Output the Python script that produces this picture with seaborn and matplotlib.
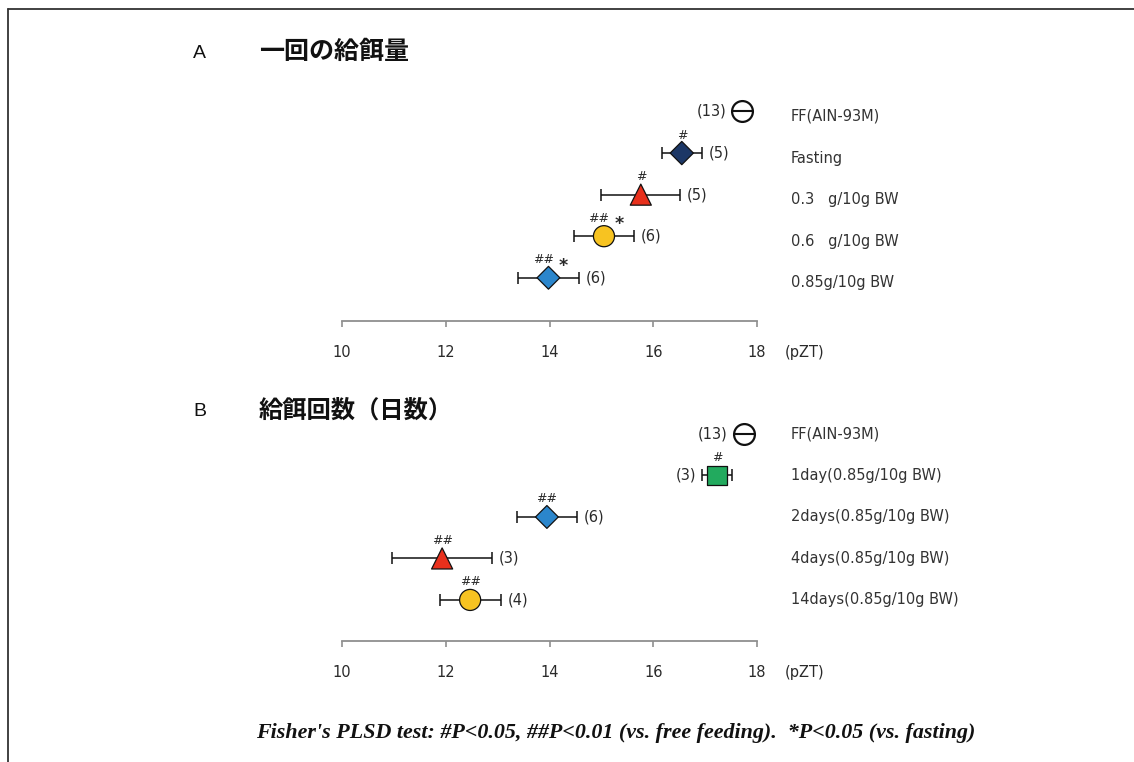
import numpy as np
import pandas as pd
import matplotlib
matplotlib.use("Agg")
import matplotlib.pyplot as plt
import seaborn as sns
from matplotlib.lines import Line2D

# Panel A: meal size per feeding
groups_a = ["FF(AIN-93M)", "Fasting", "0.3   g/10g BW", "0.6   g/10g BW", "0.85g/10g BW"]
onset_a = [17.72, 16.55, 15.76, 15.05, 13.98]
sem_a = [0.0, 0.39, 0.76, 0.58, 0.58]
n_a = [13, 5, 5, 6, 6]
hash_a = ["", "#", "#", "##", "##"]
star_a = ["", "", "", "*", "*"]

# Panel B: number of feeding days
groups_b = ["FF(AIN-93M)", "1day(0.85g/10g BW)", "2days(0.85g/10g BW)",
            "4days(0.85g/10g BW)", "14days(0.85g/10g BW)"]
onset_b = [17.74, 17.23, 13.95, 11.93, 12.47]
sem_b = [0.0, 0.29, 0.58, 0.96, 0.59]
n_b = [13, 3, 6, 3, 4]
hash_b = ["", "#", "##", "##", "##"]
star_b = ["", "", "", "", ""]

xticks = [10, 12, 14, 16, 18]

# marker styles (first entry of each panel is the free-feeding reference)
markers_a = ["o", "D", "^", "o", "D"]
colors_a = ["white", "#1c3766", "#e8301c", "#f7c321", "#2b86cc"]
sizes_a = [225, 140, 230, 230, 135]
markers_b = ["o", "s", "D", "^", "o"]
colors_b = ["white", "#22aa5e", "#2b86cc", "#e8301c", "#f7c321"]
sizes_b = [225, 200, 135, 230, 230]

sns.set_style("white")
plt.rcParams["font.family"] = ["DejaVu Sans"]

fig = plt.figure(figsize=(11.34, 7.62), dpi=100)
W, H = 1134, 762

TXT = "#2a2a2a"
AX_COL = "#8f8f8f"


def draw_panel(ax, groups, onset, sem, n, hashes, stars, markers, colors, sizes,
               label_dy, hash_dy):
    rows = np.arange(len(groups))
    df = pd.DataFrame({"group": groups, "onset": onset, "sem": sem, "row": rows})
    ref = df.iloc[:1]
    rest = df.iloc[1:]

    # error bars
    ax.errorbar(rest["onset"], rest["row"], xerr=rest["sem"], fmt="none",
                ecolor="#111111", elinewidth=1.1, capsize=4.5, capthick=1.1, zorder=2)

    # treated groups
    sns.scatterplot(data=rest, x="onset", y="row", hue="group", style="group",
                    size="group",
                    palette=dict(zip(groups[1:], colors[1:])),
                    markers=dict(zip(groups[1:], markers[1:])),
                    sizes=dict(zip(groups[1:], sizes[1:])),
                    edgecolor="#111111", linewidth=0.9, legend=False, ax=ax, zorder=3)

    # free-feeding reference: open circle crossed by a bar
    sns.scatterplot(data=ref, x="onset", y="row", marker="o", s=sizes[0],
                    color="white", edgecolor="#111111", linewidth=1.6,
                    legend=False, ax=ax, zorder=3)
    ax.plot(ref["onset"], ref["row"], marker="_", markersize=15, mew=1.5,
            color="#111111", linestyle="none", zorder=4)

    for i, g in enumerate(groups):
        x, y, e = onset[i], rows[i], sem[i]
        # sample size
        if x + e > 17:
            ax.annotate(f"({n[i]})", xy=(x - e, y), xytext=(-16 if e == 0 else -6, 0),
                        textcoords="offset pixels", ha="right", va="center",
                        fontsize=10.5, color=TXT)
        else:
            ax.annotate(f"({n[i]})", xy=(x + e, y), xytext=(7, 0),
                        textcoords="offset pixels", ha="left", va="center",
                        fontsize=10.5, color=TXT)
        # significance marks
        if hashes[i]:
            dx = -5 if stars[i] else 0
            ax.annotate(hashes[i], xy=(x, y), xytext=(dx, hash_dy),
                        textcoords="offset pixels", ha="center", va="center",
                        fontsize=9, color=TXT)
        if stars[i]:
            ax.annotate(stars[i], xy=(x, y), xytext=(15, hash_dy - 6),
                        textcoords="offset pixels", ha="center", va="center",
                        fontsize=12.5, color=TXT, fontweight="bold")
        # group name at the right
        ax.annotate(g, xy=(1, y), xycoords=("axes fraction", "data"),
                    xytext=(34, label_dy), textcoords="offset pixels",
                    ha="left", va="center", fontsize=10.5, color="#333333",
                    annotation_clip=False)

    ax.set_xlim(10, 18)
    ax.set_xticks(xticks)
    ax.set_xticklabels([str(t) for t in xticks])
    ax.set_yticks([])
    ax.set_xlabel("")
    ax.set_ylabel("")
    for s in ("left", "top", "right"):
        ax.spines[s].set_visible(False)
    ax.spines["bottom"].set_color(AX_COL)
    ax.spines["bottom"].set_linewidth(1.3)
    ax.tick_params(axis="x", bottom=True, direction="out", length=4, width=1.2,
                   color=AX_COL, pad=13, labelsize=10.5, labelcolor=TXT)
    ax.annotate("(pZT)", xy=(1, 0), xycoords="axes fraction", xytext=(48, -32),
                textcoords="offset pixels", ha="center", va="center",
                fontsize=10.5, color=TXT, annotation_clip=False)
    for c in ax.collections:
        c.set_clip_on(False)
    for l in ax.lines:
        l.set_clip_on(False)


def px_axes(left, right, top, bottom):
    return fig.add_axes([left / W, 1 - bottom / H, (right - left) / W, (bottom - top) / H])


# panel A axes: rows at 111.5 px with 41.6 px spacing, axis line at 321 px
axA = px_axes(342, 757, 111.5 - 0.4 * 41.6, 321)
axA.set_facecolor("none")
draw_panel(axA, groups_a, onset_a, sem_a, n_a, hash_a, star_a,
           markers_a, colors_a, sizes_a, label_dy=-5, hash_dy=18)
axA.set_ylim(5.04, -0.4)

# panel B axes
axB = px_axes(342, 757, 434 - 0.4 * 41.5, 641)
axB.set_facecolor("none")
draw_panel(axB, groups_b, onset_b, sem_b, n_b, hash_b, star_b,
           markers_b, colors_b, sizes_b, label_dy=0, hash_dy=18)
axB.set_ylim(4.99, -0.4)

# panel titles
fig.text(199.5 / W, 1 - 53 / H, "A", fontsize=14, family=["Liberation Sans"],
         ha="center", va="center", color="#111111")
fig.text(259 / W, 1 - 52 / H, "一回の給餌量", fontsize=18, fontweight="bold",
         family=["Noto Sans CJK JP"], ha="left", va="center", color="#111111")
fig.text(200 / W, 1 - 411 / H, "B", fontsize=14, family=["Liberation Sans"],
         ha="center", va="center", color="#111111")
fig.text(259 / W, 1 - 411 / H, "給餌回数（日数）", fontsize=17.5, fontweight="bold",
         family=["Noto Sans CJK JP"], ha="left", va="center", color="#111111")

# footnote
fig.text(616 / W, 1 - 733 / H,
         "Fisher's PLSD test: #P<0.05, ##P<0.01 (vs. free feeding).  *P<0.05 (vs. fasting)",
         fontsize=15.8, family=["Liberation Serif"], fontweight="bold", style="italic",
         ha="center", va="center", color="#111111")

# frame lines along the top and left edges
fig.add_artist(Line2D([8 / W, 1], [1 - 9 / H, 1 - 9 / H], transform=fig.transFigure,
                      color="#333333", linewidth=1.3))
fig.add_artist(Line2D([8 / W, 8 / W], [1 - 9 / H, 0], transform=fig.transFigure,
                      color="#333333", linewidth=1.3))

fig.savefig("out.png", dpi=100)
